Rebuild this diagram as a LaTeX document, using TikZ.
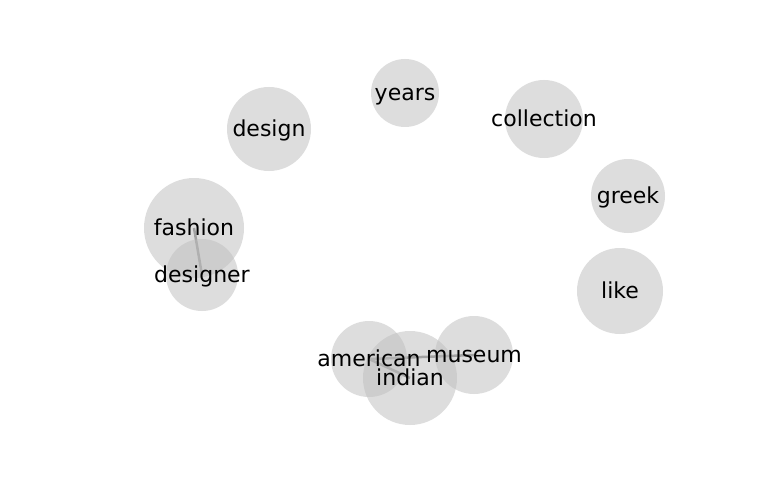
\documentclass[tikz,border=0pt]{standalone}
\usepackage{fontspec}
\setmainfont{DejaVu Sans}
\usepackage{tikz}
\usetikzlibrary{backgrounds}
\definecolor{wordFill}{RGB}{190,190,190}
\definecolor{wordEdge}{RGB}{130,130,130}
\definecolor{wordText}{RGB}{0,0,0}

\begin{document}
\begin{tikzpicture}[x=1pt,y=-1pt,
  word/.style={circle, fill=wordFill, fill opacity=0.52, inner sep=0pt},
  wordlabel/.style={anchor=base, yshift=-7.5pt, inner sep=0pt, text=wordText,
    font=\fontsize{22}{26}\selectfont},
  link/.style={wordEdge, line width=2.5pt}]
\useasboundingbox (0,0) rectangle (768,500);
\node[word, minimum size=68pt] (years) at (405,93) {};
\node[word, minimum size=84pt] (design) at (269,129) {};
\node[word, minimum size=78pt] (collection) at (544,119) {};
\node[word, minimum size=74pt] (greek) at (628,196) {};
\node[word, minimum size=100pt] (fashion) at (194,228) {};
\node[word, minimum size=72pt] (designer) at (202,275) {};
\node[word, minimum size=86pt] (like) at (620,291) {};
\node[word, minimum size=76pt] (american) at (369,359) {};
\node[word, minimum size=94pt] (indian) at (410,378) {};
\node[word, minimum size=78pt] (museum) at (474,355) {};
% links go under the circles
\begin{scope}[on background layer]
\draw[link] (fashion.center) -- (designer.center);
\draw[link] (american.center) -- (indian.center);
\draw[link] (american.center) -- (museum.center);
\end{scope}
% words on top
\foreach \w in {years,design,collection,greek,fashion,designer,like,american,indian,museum}
  \node[wordlabel] (\w-text) at (\w.center) {\w};
\end{tikzpicture}
\end{document}
